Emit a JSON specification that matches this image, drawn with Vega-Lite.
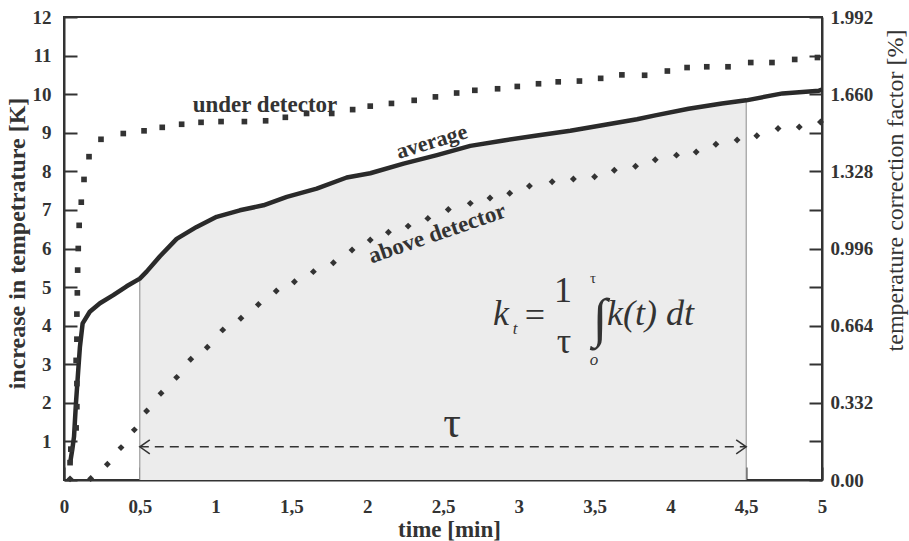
{
  "$schema": "https://vega.github.io/schema/vega-lite/v6.json",
  "width": 758,
  "height": 463,
  "autosize": {"type": "none"},
  "padding": {"left": 64, "top": 17, "right": 87, "bottom": 61},
  "background": "white",
  "config": {
    "view": {"stroke": "#333", "strokeWidth": 2},
    "font": "'Liberation Serif', 'Times New Roman', serif",
    "axis": {"grid": false, "domainColor": "#333", "domainWidth": 2, "tickColor": "#333", "tickWidth": 2, "labelColor": "#333", "titleColor": "#333", "labelFont": "'Liberation Serif', 'Times New Roman', serif", "titleFont": "'Liberation Serif', 'Times New Roman', serif"}
  },
  "datasets": {
    "avg": [
      {"t": 0.04, "k": 0.43}, {"t": 0.055, "k": 0.8}, {"t": 0.066, "k": 1.12}, {"t": 0.079, "k": 2.0}, {"t": 0.094, "k": 2.85},
      {"t": 0.105, "k": 3.45}, {"t": 0.123, "k": 4.06}, {"t": 0.17, "k": 4.36}, {"t": 0.237, "k": 4.58}, {"t": 0.325, "k": 4.79},
      {"t": 0.413, "k": 5.02}, {"t": 0.5, "k": 5.22}, {"t": 0.545, "k": 5.4}, {"t": 0.633, "k": 5.8}, {"t": 0.743, "k": 6.25},
      {"t": 0.875, "k": 6.56}, {"t": 1.007, "k": 6.82}, {"t": 1.16, "k": 6.99}, {"t": 1.315, "k": 7.12}, {"t": 1.47, "k": 7.34},
      {"t": 1.667, "k": 7.55}, {"t": 1.865, "k": 7.84}, {"t": 2.02, "k": 7.95}, {"t": 2.24, "k": 8.2}, {"t": 2.46, "k": 8.42},
      {"t": 2.68, "k": 8.66}, {"t": 2.9, "k": 8.8}, {"t": 3.12, "k": 8.93}, {"t": 3.34, "k": 9.05}, {"t": 3.56, "k": 9.2},
      {"t": 3.78, "k": 9.35}, {"t": 3.9, "k": 9.45}, {"t": 4.12, "k": 9.62}, {"t": 4.34, "k": 9.76}, {"t": 4.5, "k": 9.84},
      {"t": 4.74, "k": 10.02}, {"t": 4.98, "k": 10.09}, {"t": 5.0, "k": 10.12}
    ],
    "under": [
      {"t": 0.04, "k": 0.45}, {"t": 0.045, "k": 0.8}, {"t": 0.08, "k": 1.35}, {"t": 0.085, "k": 1.9}, {"t": 0.085, "k": 2.5},
      {"t": 0.08, "k": 3.1}, {"t": 0.085, "k": 3.65}, {"t": 0.085, "k": 4.3}, {"t": 0.088, "k": 4.85}, {"t": 0.09, "k": 5.44},
      {"t": 0.094, "k": 6.0}, {"t": 0.1, "k": 6.6}, {"t": 0.114, "k": 7.2}, {"t": 0.132, "k": 7.79}, {"t": 0.165, "k": 8.38},
      {"t": 0.244, "k": 8.83}, {"t": 0.391, "k": 8.98}, {"t": 0.528, "k": 9.05}, {"t": 0.648, "k": 9.14}, {"t": 0.776, "k": 9.22},
      {"t": 0.904, "k": 9.27}, {"t": 1.036, "k": 9.29}, {"t": 1.19, "k": 9.29}, {"t": 1.33, "k": 9.31}, {"t": 1.46, "k": 9.4},
      {"t": 1.6, "k": 9.5}, {"t": 1.766, "k": 9.5}, {"t": 1.904, "k": 9.6}, {"t": 2.02, "k": 9.69}, {"t": 2.16, "k": 9.76},
      {"t": 2.31, "k": 9.84}, {"t": 2.45, "k": 9.93}, {"t": 2.59, "k": 10.03}, {"t": 2.71, "k": 10.1}, {"t": 2.86, "k": 10.14},
      {"t": 2.99, "k": 10.2}, {"t": 3.13, "k": 10.27}, {"t": 3.26, "k": 10.32}, {"t": 3.4, "k": 10.34}, {"t": 3.54, "k": 10.41},
      {"t": 3.68, "k": 10.5}, {"t": 3.83, "k": 10.49}, {"t": 3.98, "k": 10.6}, {"t": 4.11, "k": 10.69}, {"t": 4.24, "k": 10.71},
      {"t": 4.38, "k": 10.71}, {"t": 4.53, "k": 10.82}, {"t": 4.67, "k": 10.82}, {"t": 4.82, "k": 10.9}, {"t": 4.97, "k": 10.95}
    ],
    "above": [
      {"t": 0.04, "k": 0.03}, {"t": 0.176, "k": 0.04}, {"t": 0.286, "k": 0.41}, {"t": 0.376, "k": 0.84}, {"t": 0.464, "k": 1.3},
      {"t": 0.545, "k": 1.79}, {"t": 0.64, "k": 2.25}, {"t": 0.743, "k": 2.66}, {"t": 0.836, "k": 3.13}, {"t": 0.945, "k": 3.44},
      {"t": 1.047, "k": 3.89}, {"t": 1.167, "k": 4.19}, {"t": 1.282, "k": 4.55}, {"t": 1.4, "k": 4.9}, {"t": 1.52, "k": 5.14},
      {"t": 1.645, "k": 5.4}, {"t": 1.777, "k": 5.63}, {"t": 1.9, "k": 5.96}, {"t": 2.02, "k": 6.22}, {"t": 2.14, "k": 6.42},
      {"t": 2.27, "k": 6.58}, {"t": 2.4, "k": 6.78}, {"t": 2.535, "k": 7.01}, {"t": 2.68, "k": 7.17}, {"t": 2.81, "k": 7.31},
      {"t": 2.94, "k": 7.43}, {"t": 3.07, "k": 7.62}, {"t": 3.22, "k": 7.73}, {"t": 3.36, "k": 7.8}, {"t": 3.5, "k": 7.86},
      {"t": 3.63, "k": 8.03}, {"t": 3.77, "k": 8.13}, {"t": 3.9, "k": 8.3}, {"t": 4.04, "k": 8.42}, {"t": 4.17, "k": 8.5},
      {"t": 4.3, "k": 8.7}, {"t": 4.44, "k": 8.81}, {"t": 4.57, "k": 8.92}, {"t": 4.71, "k": 9.11}, {"t": 4.85, "k": 9.15},
      {"t": 4.99, "k": 9.28}
    ]
  },
  "layer": [
    {
      "encoding": {
        "x": {
          "field": "t", "type": "quantitative",
          "scale": {"domain": [0, 5], "nice": false, "zero": false},
          "axis": {
            "orient": "bottom", "values": [0, 0.5, 1, 1.5, 2, 2.5, 3, 3.5, 4, 4.5, 5],
            "labelExpr": "replace(toString(datum.value), '.', ',')",
            "tickSize": -13, "labelPadding": 30, "labelFontSize": 19, "labelFontWeight": "bold", "labelFlush": false,
            "title": "time [min]", "titleFontSize": 23, "titleFontWeight": "bold",
            "titleX": 385, "titleY": 56, "titleBaseline": "alphabetic"
          }
        },
        "y": {
          "field": "k", "type": "quantitative",
          "scale": {"domain": [0, 12], "nice": false},
          "axis": {
            "orient": "left", "values": [0, 1, 2, 3, 4, 5, 6, 7, 8, 9, 10, 11, 12],
            "labelExpr": "datum.value == 0 ? '' : datum.label",
            "tickSize": -13, "labelPadding": 26, "labelFontSize": 19, "labelFontWeight": "bold", "labelFlush": false,
            "title": "increase in tempetrature [K]", "titleFontSize": 24, "titleFontWeight": "bold",
            "titleX": -40, "titleY": 226, "titleBaseline": "alphabetic", "titleAngle": 270
          }
        }
      },
      "layer": [
        {
          "data": {"name": "avg"},
          "transform": [{"filter": "datum.t >= 0.5 && datum.t <= 4.5"}],
          "mark": {"type": "area", "color": "#ececec"}
        },
        {
          "data": {"name": "avg"},
          "transform": [{"filter": "datum.t == 0.5 || datum.t == 4.5"}],
          "mark": {"type": "rule", "color": "#8a8a8a", "strokeWidth": 1},
          "encoding": {"y2": {"datum": 0}}
        },
        {
          "data": {"values": [{"t": 0.5, "t2": 4.5, "k": 0.86}]},
          "mark": {"type": "rule", "color": "#333", "strokeWidth": 1.5, "strokeDash": [9, 6]},
          "encoding": {"x2": {"field": "t2"}}
        },
        {
          "data": {"values": [{"t": 0.5, "k": 0.86}]},
          "mark": {"type": "point", "shape": "M2,-1.4L0,0L2,1.4", "size": 100, "filled": false, "stroke": "#333", "strokeWidth": 1.5, "opacity": 1}
        },
        {
          "data": {"values": [{"t": 4.5, "k": 0.86}]},
          "mark": {"type": "point", "shape": "M-2,-1.4L0,0L-2,1.4", "size": 100, "filled": false, "stroke": "#333", "strokeWidth": 1.5, "opacity": 1}
        },
        {
          "data": {"name": "avg"},
          "mark": {"type": "line", "color": "#2a2a2a", "strokeWidth": 4.5, "strokeJoin": "round"}
        },
        {
          "data": {"name": "under"},
          "mark": {"type": "point", "shape": "square", "filled": true, "size": 32, "color": "#333", "opacity": 1}
        },
        {
          "data": {"name": "above"},
          "mark": {"type": "point", "shape": "diamond", "filled": true, "size": 48, "color": "#333", "opacity": 1}
        },
        {
          "data": {"values": [{"t": 1.326, "k": 9.53, "label": "under detector"}]},
          "mark": {"type": "text", "fontWeight": "bold", "fontSize": 23, "color": "#333", "align": "center", "baseline": "alphabetic"},
          "encoding": {"text": {"field": "label"}}
        },
        {
          "data": {"values": [{"t": 2.425, "k": 8.77, "label": "average"}]},
          "mark": {"type": "text", "fontWeight": "bold", "fontSize": 22, "color": "#333", "align": "center", "baseline": "middle", "angle": -17},
          "encoding": {"text": {"field": "label"}}
        },
        {
          "data": {"values": [{"t": 2.462, "k": 6.39, "label": "above detector"}]},
          "mark": {"type": "text", "fontWeight": "bold", "fontSize": 23, "color": "#333", "align": "center", "baseline": "middle", "angle": -19},
          "encoding": {"text": {"field": "label"}}
        },
        {
          "data": {"values": [{"t": 2.56, "k": 1.11, "label": "τ"}]},
          "mark": {"type": "text", "fontSize": 44, "color": "#333", "align": "center", "baseline": "alphabetic"},
          "encoding": {"text": {"field": "label"}}
        },
        {
          "data": {"values": [{"t": 2.883, "k": 4.02, "label": "k"}, {"t": 3.869, "k": 4.02, "label": "k(t) dt"}]},
          "mark": {"type": "text", "fontStyle": "italic", "fontSize": 36, "color": "#333", "align": "center", "baseline": "alphabetic"},
          "encoding": {"text": {"field": "label"}}
        },
        {
          "data": {"values": [{"t": 3.107, "k": 3.96, "label": "="}, {"t": 3.292, "k": 4.61, "label": "1"}, {"t": 3.298, "k": 3.29, "label": "τ"}]},
          "mark": {"type": "text", "fontSize": 36, "color": "#333", "align": "center", "baseline": "alphabetic"},
          "encoding": {"text": {"field": "label"}}
        },
        {
          "data": {"values": [{"t": 2.975, "k": 3.78, "label": "t"}, {"t": 3.496, "k": 2.98, "label": "o"}]},
          "mark": {"type": "text", "fontStyle": "italic", "fontSize": 17, "color": "#333", "align": "center", "baseline": "alphabetic"},
          "encoding": {"text": {"field": "label"}}
        },
        {
          "data": {"values": [{"t": 3.49, "k": 5.1, "label": "τ"}]},
          "mark": {"type": "text", "fontSize": 15, "color": "#333", "align": "center", "baseline": "alphabetic"},
          "encoding": {"text": {"field": "label"}}
        },
        {
          "data": {"values": [{"t": 3.536, "k": 4.145, "label": "∫"}]},
          "mark": {"type": "text", "fontSize": 54, "color": "#333", "align": "center", "baseline": "middle"},
          "encoding": {"text": {"field": "label"}}
        }
      ]
    },
    {
      "data": {"values": [{"r": 0}, {"r": 1.992}]},
      "mark": {"type": "point", "opacity": 0},
      "encoding": {
        "y": {
          "field": "r", "type": "quantitative",
          "scale": {"domain": [0, 1.992], "nice": false},
          "axis": {
            "orient": "right",
            "values": [0, 0.166, 0.332, 0.498, 0.664, 0.83, 0.996, 1.162, 1.328, 1.494, 1.66, 1.826, 1.992],
            "labelExpr": "datum.value == 0 ? '0.00' : (round(datum.value / 0.166) % 2 == 0 ? format(datum.value, '.3f') : '')",
            "tickSize": -13, "labelPadding": 21, "labelFontSize": 19, "labelFontWeight": "bold", "labelFlush": false,
            "title": "temperature correction factor [%]", "titleFontSize": 24, "titleFontWeight": "normal",
            "titleX": 80, "titleY": 173, "titleBaseline": "alphabetic", "titleAngle": 270
          }
        }
      }
    }
  ],
  "resolve": {"scale": {"y": "independent"}}
}
